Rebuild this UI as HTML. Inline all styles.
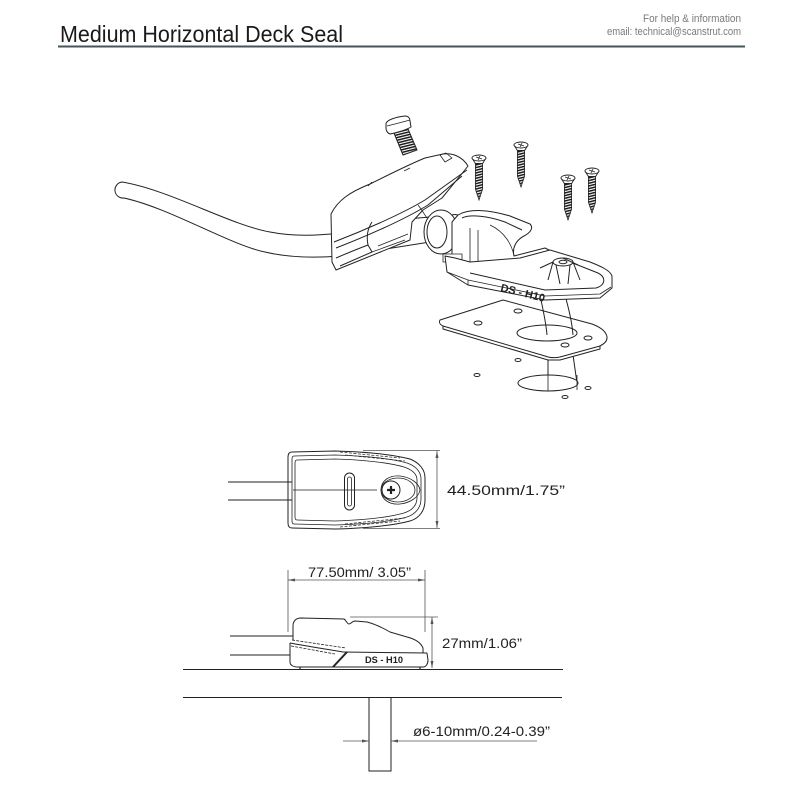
<!DOCTYPE html>
<html><head><meta charset="utf-8"><style>
html,body{margin:0;padding:0;background:#fff;}
svg{display:block;}
text{font-family:"Liberation Sans",sans-serif;}
</style></head><body>
<svg width="800" height="800" viewBox="0 0 800 800" xmlns="http://www.w3.org/2000/svg">
<defs>
<pattern id="thr" width="6" height="2.6" patternUnits="userSpaceOnUse" patternTransform="rotate(-14)"><rect width="6" height="2.6" fill="#fff"/><rect width="6" height="1.5" fill="#1a1a1a"/></pattern>
<g id="screw">
 <path d="M-3.6,5 L-3.6,31 L0,42 L3.6,31 L3.6,5 Z" fill="url(#thr)" stroke="#222" stroke-width="0.8"/>
 <path d="M-7,0 L-3.6,5.5 L3.6,5.5 L7,0" fill="#fff" stroke="#222" stroke-width="0.9"/>
 <ellipse cx="0" cy="0" rx="7" ry="3" fill="#fff" stroke="#222" stroke-width="0.9"/>
 <path d="M-3,-1 L3,1 M-1,2 L1,-2" stroke="#222" stroke-width="0.8"/>
</g>
</defs>

<!-- Header -->
<text x="60" y="42" font-size="23.5" fill="#1a1a1a" textLength="283" lengthAdjust="spacingAndGlyphs">Medium Horizontal Deck Seal</text>
<text x="741" y="22" font-size="11" fill="#7a7a7a" text-anchor="end" textLength="98" lengthAdjust="spacingAndGlyphs">For help &amp; information</text>
<text x="741" y="35" font-size="11" fill="#7a7a7a" text-anchor="end" textLength="134" lengthAdjust="spacingAndGlyphs">email: technical@scanstrut.com</text>
<rect x="58" y="45.5" width="687" height="2" fill="#46555a"/>

<!-- ===== Exploded isometric ===== -->
<g stroke="#222" stroke-width="1" fill="none" stroke-linejoin="round">
 <!-- tube below plate -->
 <path d="M548,355 L548,383 M573,355 L577,383"/>
 <ellipse cx="548" cy="383" rx="30" ry="8" fill="#fff"/>
 <path d="M548,375 L548,391 M577,375 L577,390" stroke-width="0.8"/>
 <!-- small deck holes -->
 <ellipse cx="518" cy="360" rx="3" ry="1.5"/>
 <ellipse cx="477" cy="375" rx="3" ry="1.5"/>
 <ellipse cx="588" cy="388" rx="3" ry="1.5"/>
 <ellipse cx="565" cy="397" rx="3" ry="1.5"/>

 <!-- gasket plate -->
 <path d="M443,326 L443,329 L548,360 L560,360 L600,349 L600,346" fill="#fff"/>
 <path d="M440,320 L503,300 L592,324 C608,330 612,340 600,346 L560,357 C555,358 550,358 545,356 L443,326 C439,324 439,322 440,320 Z" fill="#fff"/>
 <ellipse cx="547" cy="333" rx="30" ry="8" fill="#fff"/>
 <ellipse cx="518" cy="311" rx="4" ry="2"/>
 <ellipse cx="478" cy="323" rx="4" ry="2"/>
 <ellipse cx="565" cy="345" rx="4" ry="2"/>
 <ellipse cx="588" cy="338" rx="4" ry="2"/>
 <!-- tube above plate -->
 <path d="M540,295 C543,310 546,322 547,335 M565,295 C569,310 572,322 573,335"/>

 <!-- cable -->
 <path d="M122,182 C170,190 230,225 270,232 C290,236 315,236 340,233 L340,256 C315,258 290,258 265,252 C230,245 170,208 124,198 A8,8 0 0 1 122,182 Z" fill="#fff"/>

 <!-- arm -->
 <path d="M372,222 L430,217 L430,242 L367,252 Z" fill="#fff"/>

 <!-- housing -->
 <path d="M331,214 C338,200 350,192 370,184 C390,174 410,164 425,158 L443,154 C452,153 462,156 468,166 L460,176 L442,198 L423,210 L412,222 L410,240 L336,270 L332,262 Z" fill="#fff"/>
 <path d="M334,242 C360,232 400,215 425,200 L467,170"/>
 <path d="M336,248 C362,238 402,221 428,205 L462,176"/>
 <path d="M336,258 C350,252 360,248 368,245 L372,252 L340,266"/>
 <path d="M368,245 C366,235 368,228 372,222" />
 <path d="M372,252 L405,240 M378,246 L408,234" stroke-width="0.8"/>
 <path d="M440,155 L446,153 L452,158 L445,162 Z" stroke-width="0.8"/>
 <path d="M368,186 L372,182 M404,171 L410,168" stroke-width="0.8"/>
 <path d="M418,205 C422,210 424,214 427,218" stroke-width="0.8"/>

 <!-- ball / collar -->
 <ellipse cx="441" cy="232" rx="17" ry="22" fill="#fff"/>
 <ellipse cx="437" cy="232" rx="10" ry="16" fill="#fff"/>
 <path d="M452,215 C462,212 466,225 464,240 C462,250 458,256 452,256"/>

 <!-- clamp body -->
 <path d="M452,222 L458,215 C470,208 490,210 510,216 L530,224 C534,228 530,233 524,236 C516,240 512,248 514,256 L545,248 L565,258 L470,268 L452,262 Z" fill="#fff"/>
 <path d="M462,218 C470,214 488,216 505,222 L522,230"/>
 <path d="M470,228 L470,262 M478,230 L478,264" stroke-width="0.8"/>
 <path d="M490,225 C505,232 512,245 514,256" stroke-width="0.8"/>
 <path d="M443,254 L462,254 L462,262 L443,262 Z" fill="#fff" stroke-width="0.8"/>

 <!-- base plate -->
 <path d="M445,256 L447,272 L468,285 L545,300 L600,298 L612,288 L612,276 C610,270 600,266 590,262 L550,250 L520,258 L470,262 L455,258 Z" fill="#fff"/>
 <path d="M470,273 L545,290 L596,288 C606,285 606,277 598,273 L560,258"/>
 <path d="M468,285 L468,280 L545,296 L600,294 L611,287" stroke-width="0.8"/>
 <path d="M447,272 L468,280" stroke-width="0.8"/>
 <ellipse cx="563" cy="262" rx="10" ry="4" fill="#fff"/>
 <ellipse cx="563" cy="262" rx="4" ry="1.7"/>
 <path d="M553,262 L548,280 M573,262 L580,280 M556,265 L560,284 M570,265 L568,284 M563,258 L578,265 M553,262 L540,268"/>
 <text x="0" y="0" font-size="11" font-weight="bold" fill="#222" stroke="none" transform="translate(500,291) rotate(14)">DS - H10</text>

 <!-- bolt -->
 <path d="M394,133 L408,129 L417,150 L403,155 Z" fill="url(#thr)"/>
 <path d="M386,124 C386,120 396,117 405,116 C409,116 410,119 410,121 L411,127 C406,130 396,133 390,134 C387,133 386,130 386,128 Z" fill="#fff"/>
 <path d="M387,126 C395,124 403,122 410,120" stroke-width="0.8"/>
</g>

<!-- screws -->
<use href="#screw" x="479" y="158"/>
<use href="#screw" x="521" y="145"/>
<use href="#screw" x="568" y="178"/>
<use href="#screw" x="592" y="171"/>

<!-- ===== Top view ===== -->
<g stroke="#222" stroke-width="1" fill="none">
 <path d="M228,482 L292,482 M228,500 L292,500"/>
 <path d="M292,452 L335,451 C370,452 395,455 410,459 C420,463 425,470 425,478 L425,500 C425,510 420,518 410,521 C395,525 370,528 335,529 L292,528 C289,528 288,526 288,523 L288,457 C288,454 289,452 292,452 Z"/>
 <path d="M294,456 L335,455 C368,456 393,459 407,463 C416,466 421,472 421,479 L421,499 C421,507 416,514 407,517 C393,521 368,524 335,525 L294,524 Q292,524 292,521 L292,459 Q292,456 294,456 Z" stroke-width="0.8"/>
 <path d="M297,460 L335,459 C366,460 390,463 404,467 C413,470 417,474 417,480 L417,498 C417,505 413,510 404,513 C390,517 366,520 335,521 L297,520 Q295,520 295,517 L295,463 Q295,460 297,460 Z" stroke-width="0.8"/>
 <path d="M340,452 L400,458 M345,455 L405,461 M340,527 L400,521 M345,524 L405,518" stroke-width="0.7" stroke-dasharray="3,1.5"/>
 <path d="M293,490 L377,490" stroke-width="0.8"/>
 <rect x="344.5" y="473" width="10" height="37" rx="5"/>
 <rect x="347.5" y="477" width="4" height="29" rx="2" stroke-width="0.8"/>
 <path d="M381,490 C381,480 390,475 400,476 C410,477 419,483 420,490 C419,497 410,503 400,504 C390,505 381,500 381,490 Z" stroke-width="0.8"/>
 <ellipse cx="398" cy="490" rx="17" ry="12" stroke-width="0.8"/>
 <circle cx="391" cy="490" r="9" fill="#fff"/>
 <path d="M391,486 L391,494 M387,490 L395,490" stroke-width="2.2"/>
 <!-- dim -->
 <path d="M363,450.5 L440,450.5 M363,528.5 L440,528.5" stroke="#555" stroke-width="0.7"/>
 <path d="M437,451 L437,528" stroke="#555" stroke-width="0.8"/>
 <path d="M437,451 L435.5,458 L438.5,458 Z M437,528 L435.5,521 L438.5,521 Z" fill="#555" stroke="none"/>
</g>
<text x="447" y="495" font-size="13.5" fill="#222" textLength="118" lengthAdjust="spacingAndGlyphs">44.50mm/1.75”</text>

<!-- ===== Side view ===== -->
<g stroke="#222" stroke-width="1" fill="none">
 <path d="M230,636 L293,636 M230,655 L290,655"/>
 <!-- base -->
 <path d="M290,643 L290,662 C290,665 293,667 298,667 L423,667 C426,667 428,664 428,660 L427,653"/>
 <path d="M343,652 L427,653"/>
 <path d="M290,643 C300,645 325,649 343,652"/>
 <path d="M292,640 L346,648 M291,646 L335,654" stroke-width="0.8" stroke-dasharray="3,1.2"/>
 <!-- top cover -->
 <path d="M293,640 L293,626 C293,621 296,618 301,618 L344,619 C346,620 347,624 349,624 C351,624 352,621 355,621 L367,622 C375,624 383,628 390,632 L407,637 C415,639 421,643 423,648 L423,653"/>
 <path d="M333,667 L347,652" stroke-width="2"/>
 <path d="M300,667 L300,669 M420,667 L420,669" stroke-width="1.2"/>
 <text x="365" y="663" font-size="9.5" font-weight="bold" fill="#222" stroke="none" textLength="38" lengthAdjust="spacingAndGlyphs">DS - H10</text>
 <!-- ground -->
 <path d="M183,669.5 L563,669.5" stroke-width="1.1"/>
 <!-- width dim -->
 <path d="M288,570 L288,632 M425,570 L425,632" stroke="#555" stroke-width="0.8"/>
 <path d="M288,580 L425,580" stroke="#555" stroke-width="0.8"/>
 <path d="M288,580 L295,578.5 L295,581.5 Z M425,580 L418,578.5 L418,581.5 Z" fill="#555" stroke="none"/>
 <!-- height dim -->
 <path d="M350,617 L438,617" stroke="#555" stroke-width="0.8"/>
 <path d="M432,617 L432,668" stroke="#555" stroke-width="0.8"/>
 <path d="M432,617 L430.5,624 L433.5,624 Z M432,668 L430.5,661 L433.5,661 Z" fill="#555" stroke="none"/>
</g>
<text x="308" y="577" font-size="14" fill="#222" textLength="103" lengthAdjust="spacingAndGlyphs">77.50mm/ 3.05”</text>
<text x="442" y="648" font-size="14" fill="#222" textLength="80" lengthAdjust="spacingAndGlyphs">27mm/1.06”</text>

<!-- ===== Deck section ===== -->
<g stroke="#222" stroke-width="1" fill="none">
 <path d="M183,697.5 L562,697.5" stroke-width="1.1"/>
 <path d="M369,698 L369,771 L391,771 L391,698"/>
 <path d="M343,741 L369,741 M391,741 L537,741" stroke="#555" stroke-width="0.8"/>
 <path d="M369,741 L362,739.5 L362,742.5 Z M391,741 L398,739.5 L398,742.5 Z" fill="#555" stroke="none"/>
</g>
<text x="413" y="736" font-size="14" fill="#222" textLength="137" lengthAdjust="spacingAndGlyphs">ø6-10mm/0.24-0.39”</text>
</svg>
</body></html>
